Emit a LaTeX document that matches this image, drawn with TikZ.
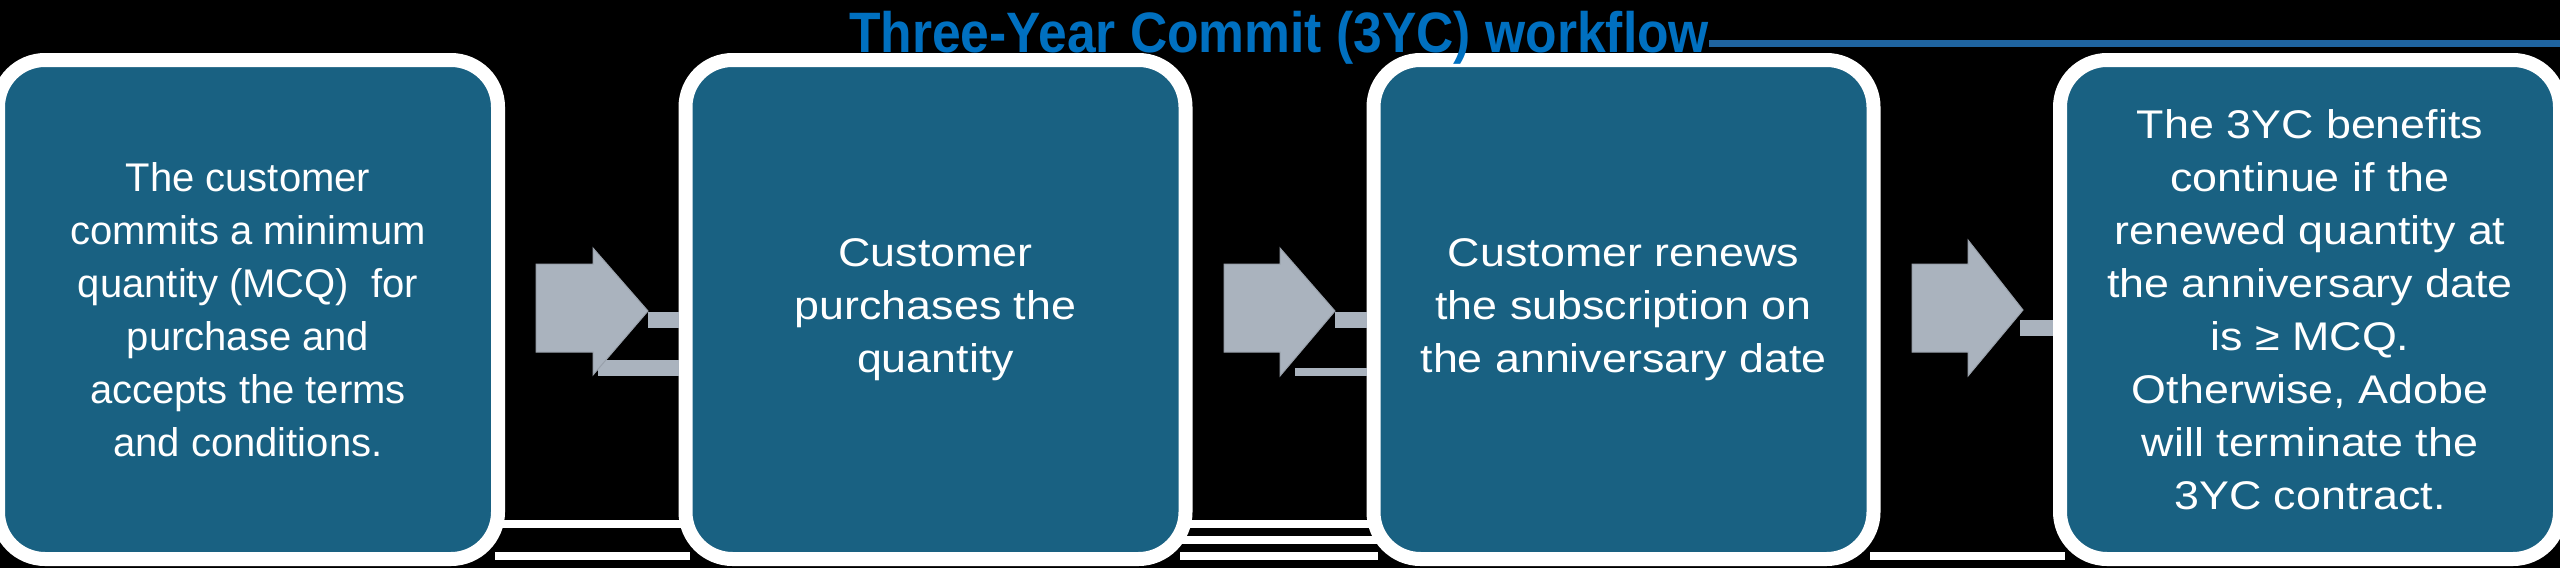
\documentclass[tikz,border=0pt]{standalone}
\usepackage{fontspec}
\setmainfont{Liberation Sans}
\newfontfamily\widefont[FakeStretch=1.12]{Liberation Sans}
\newfontfamily\titlefont[FakeStretch=0.905]{Liberation Sans}
\definecolor{boxteal}{RGB}{25,97,130}
\definecolor{arrowgrey}{RGB}{170,179,190}
\definecolor{titleblue}{RGB}{0,112,192}
\definecolor{lineblue}{RGB}{31,100,160}
\tikzset{
  stepbox/.style={fill=boxteal, draw=white, line width=14pt, rounded corners=47pt,
    minimum width=500pt, minimum height=499pt, align=center, text=white,
    inner sep=0pt, font=\fontsize{40pt}{53pt}\selectfont},
  widebox/.style={stepbox, font=\widefont\fontsize{40pt}{53pt}\selectfont},
  blockarrow/.style={fill=arrowgrey, draw=arrowgrey!90!black, line width=1pt},
  connline/.style={draw=arrowgrey, line width=16pt},
  thinconn/.style={draw=arrowgrey, line width=8pt},
  titletext/.style={text=titleblue, inner sep=0pt, font=\titlefont\bfseries\fontsize{57pt}{60pt}\selectfont},
  titlerule/.style={draw=lineblue, line width=7pt}
}
\begin{document}
\begin{tikzpicture}[x=1pt,y=-1pt]
\useasboundingbox (0,0) rectangle (2560,568);
\fill[black] (0,0) rectangle (2560,568);
% white strips between boxes at the bottom
\fill[white] (495,520) rectangle (690,528);
\fill[white] (495,552) rectangle (690,560);
\fill[white] (1180,520) rectangle (1378,528);
\fill[white] (1180,536) rectangle (1378,544);
\fill[white] (1180,552) rectangle (1378,560);
\fill[white] (1870,552) rectangle (2065,560);
% boxes
\node[stepbox] (b1) at (248,309.5) {The customer\\commits a minimum\\quantity (MCQ)\ \ for\\purchase and\\accepts the terms\\and conditions.};
\node[widebox] (b2) at (935.5,309.5) {Customer\\purchases the\\quantity};
\node[widebox] (b3) at (1623.5,309.5) {Customer renews\\the subscription on\\the anniversary date};
\node[widebox] (b4) at (2310,309.5) {The 3YC benefits\\continue if the\\renewed quantity at\\the anniversary date\\is ≥ MCQ.\\Otherwise, Adobe\\will terminate the\\3YC contract.};
% arrow 1
\coordinate (t1) at (648,320);
\coordinate (l1) at (598,368);
\draw[connline] (t1) -- (t1 -| b2.west);
\draw[connline] (l1) -- (l1 -| b2.west);
\draw[blockarrow] (536,264) -- (593,264) -- (593,248) -- (648,311) -- (593,375) -- (593,352) -- (536,352) -- cycle;
% arrow 2
\coordinate (t2) at (1335,320);
\coordinate (l2) at (1295,372);
\draw[connline] (t2) -- (t2 -| b3.west);
\draw[thinconn] (l2) -- (l2 -| b3.west);
\draw[blockarrow] (1224,264) -- (1280,264) -- (1280,248) -- (1335,311) -- (1280,376) -- (1280,352) -- (1224,352) -- cycle;
% arrow 3
\coordinate (t3) at (2020,328);
\draw[connline] (t3) -- (t3 -| b4.west);
\draw[blockarrow] (1912,264) -- (1968,264) -- (1968,240) -- (2023,310) -- (1968,376) -- (1968,352) -- (1912,352) -- cycle;
% title
\node[titletext, anchor=base west] (title) at (849,52) {Three-Year Commit (3YC) workflow};
\coordinate (lineend) at (2560,43.5);
\draw[titlerule] (title.east |- lineend) -- (lineend);
\end{tikzpicture}
\end{document}
